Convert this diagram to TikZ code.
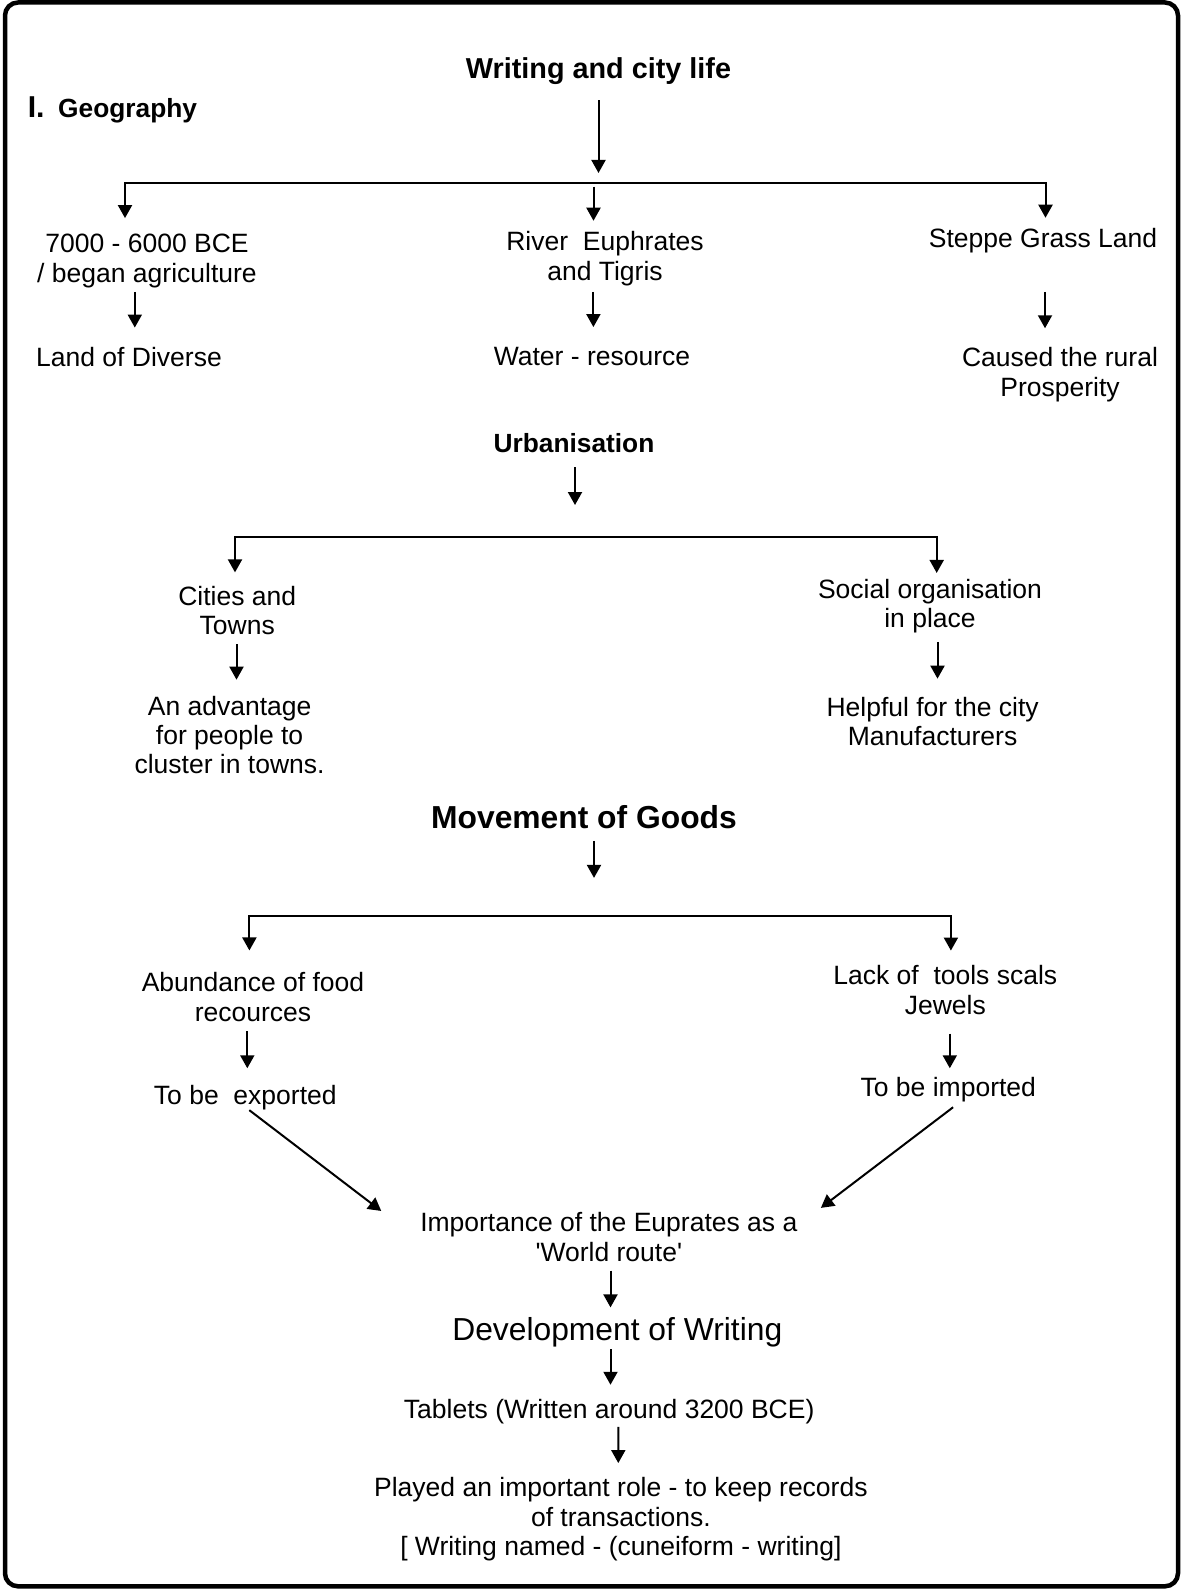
\documentclass[tikz,border=0pt]{standalone}
\usepackage{fontspec}
\setmainfont{Liberation Sans}
\usetikzlibrary{arrows.meta}

\tikzset{
  txt/.style={inner sep=0pt, align=center, font=\fontsize{26.5}{29.4}\selectfont},
  arr/.style={line width=2pt, -{Triangle[length=13pt,width=14pt]}},
  both/.style={line width=2pt, {Triangle[length=13pt,width=14pt]}-{Triangle[length=13pt,width=14pt]}},
}

\begin{document}
\begin{tikzpicture}[x=1pt, y=-1pt]
\useasboundingbox (0,0) rectangle (1182,1589);
\draw[line width=4.5pt, rounded corners=13pt] (5,2.5) rectangle (1178,1586.3);

\node[txt, font=\fontsize{28.8}{32}\selectfont\bfseries] (title) at (598.5,71) {Writing and city life};
\node[txt, anchor=west, font=\fontsize{30.2}{33}\selectfont\bfseries] (roman) at (27.6,107.5) {I.};
\node[txt, anchor=west, font=\fontsize{26.3}{29}\selectfont\bfseries] (geo) at (58,110.3) {Geography};
\coordinate (t1) at (598.5,173);
\draw[arr, shorten <=15.7pt] (title.south) -- (t1);

\coordinate (b1l) at (125,183);
\coordinate (b1r) at (1045.5,183);
\coordinate (m1) at (593.5,186.7);
\node[txt] (agri) at (147,260.8) {7000 - 6000 BCE\\/ began agriculture};
\node[txt] (river) at (605,258.8) {River~ Euphrates\\and Tigris};
\node[txt] (steppe) at (1043,241) {Steppe Grass Land};
\draw[both, shorten <=15.8pt, shorten >=10.7pt] (agri.north -| b1l) |- (b1r) -- (steppe.north -| b1r);
\draw[arr, shorten >=10.8pt] (m1) -- (m1 |- river.north);

\node[txt] (land) at (129,356.8) {Land of Diverse};
\node[txt] (water) at (592,356.8) {Water - resource};
\node[txt] (rural) at (1060,374.8) {Caused the rural\\Prosperity};
\draw[arr, shorten <=4.2pt, shorten >=19.3pt] ([xshift=-12.2pt]agri.south) -- ([xshift=5.8pt]land.north);
\draw[arr, shorten <=5.9pt, shorten >=20.3pt] ([xshift=-11.6pt]river.south) -- ([xshift=1.4pt]water.north);
\draw[arr, shorten <=38.4pt, shorten >=19.3pt] ([xshift=2pt]steppe.south) -- ([xshift=-15pt]rural.north);

\node[txt, font=\fontsize{26.3}{29}\selectfont\bfseries] (urban) at (574,443) {Urbanisation};
\coordinate (u1) at (575,505);
\draw[arr, shorten <=14.3pt] ([xshift=1pt]urban.south) -- (u1);

\coordinate (b2l) at (235,537.3);
\coordinate (b2r) at (936.7,537.3);
\node[txt] (cities) at (237.2,610.8) {Cities and\\Towns};
\node[txt] (social) at (930,606) {Social organisation\\in place};
\draw[both, shorten <=13.8pt, shorten >=5.8pt] (cities.north -| b2l) |- (b2r) -- (social.north -| b2r);
\node[txt] (advantage) at (229.6,735) {An advantage\\for people to\\cluster in towns.};
\node[txt] (helpful) at (932.6,721.3) {Helpful for the city\\Manufacturers};
\draw[arr, shorten <=9pt, shorten >=16pt] ([xshift=-0.7pt]cities.south) -- ([xshift=6.9pt]advantage.north);
\draw[arr, shorten <=8.5pt, shorten >=18pt] ([xshift=7.5pt]social.south) -- ([xshift=4.9pt]helpful.north);

\node[txt, font=\fontsize{31.8}{35}\selectfont\bfseries] (goods) at (584,817) {Movement of Goods};
\coordinate (g1) at (594,877.9);
\draw[arr, shorten <=12pt] ([xshift=10pt]goods.south) -- (g1);

\coordinate (b3l) at (249.4,916.4);
\coordinate (b3r) at (950.9,916.4);
\node[txt] (abund) at (253,997) {Abundance of food\\recources};
\node[txt] (lack) at (945.3,990) {Lack of~ tools scals\\Jewels};
\draw[both, shorten <=21.9pt, shorten >=14.8pt] (abund.north -| b3l) |- (b3r) -- (lack.north -| b3r);
\node[txt] (export) at (245.3,1097.6) {To be~ exported};
\node[txt] (import) at (948.3,1089.5) {To be imported};
\draw[arr, shorten <=9.8pt, shorten >=16.8pt] ([xshift=-5.7pt]abund.south) -- ([xshift=2pt]export.north);
\draw[arr, shorten <=18.9pt, shorten >=8.7pt] ([xshift=4.5pt]lack.south) -- ([xshift=1.5pt]import.north);

\node[txt] (route) at (608.8,1237.2) {Importance of the Euprates as a\\\textquotesingle World route\textquotesingle};
\draw[arr] ([xshift=4pt]export.south) -- ([xshift=-38.8pt, yshift=1.6pt]route.north west);
\draw[arr] ([xshift=4.8pt, yshift=-5.2pt]import.south) -- ([xshift=23.3pt, yshift=4.7pt]route.north east);

\node[txt, font=\fontsize{31.8}{35}\selectfont] (devel) at (617.3,1332.3) {Development of Writing};
\draw[arr, shorten <=8.8pt, shorten >=9.9pt] ([xshift=1.7pt]route.south) -- ([xshift=-6.8pt]devel.north);
\node[txt] (tablets) at (609.2,1411.8) {Tablets (Written around 3200 BCE)};
\draw[arr, shorten <=1.8pt, shorten >=14.5pt] ([xshift=-6.8pt]devel.south) -- ([xshift=1.3pt]tablets.north);
\node[txt] (played) at (620.9,1519.3) {Played an important role - to keep records\\of transactions.\\{}[ Writing named - (cuneiform - writing]};
\draw[arr, shorten <=2.6pt, shorten >=14.3pt] ([xshift=9.1pt]tablets.south) -- ([xshift=-2.6pt]played.north);
\end{tikzpicture}
\end{document}
